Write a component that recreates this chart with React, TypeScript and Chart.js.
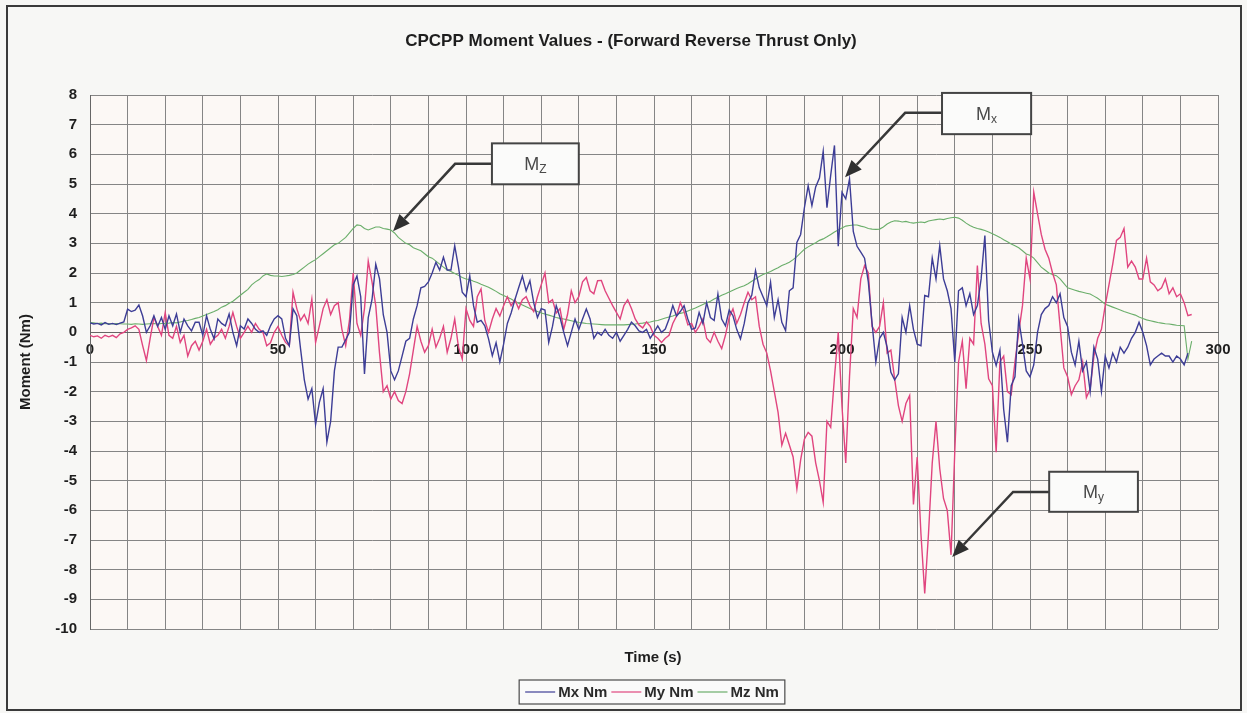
import React, { useEffect, useRef } from "react";
import { Chart, registerables } from "chart.js";

Chart.register(...registerables);

const TITLE = "CPCPP Moment Values - (Forward Reverse Thrust Only)";
const X_TITLE = "Time (s)";
const Y_TITLE = "Moment (Nm)";
const SERIES_NAMES = ["Mx Nm", "My Nm", "Mz Nm"];
const SERIES_COLORS = ["#3d3d96", "#e0457f", "#6aae6a"];
const SERIES_WIDTHS = [1.4, 1.4, 1.1];
const X_TICK_LABELS = [0, 50, 100, 150, 200, 250, 300];

// Mx (N m), one value per second from t = 0 s
const MX = [
  0.32, 0.28, 0.3, 0.25, 0.33, 0.27, 0.3, 0.26, 0.31, 0.35,
  0.78, 0.7, 0.75, 0.92, 0.55, 0.0, 0.22, 0.56, 0.2, 0.5,
  0.1, 0.56, 0.22, 0.62, 0.0, 0.45, 0.22, 0.05, 0.34, 0.34,
  -0.1, 0.56, 0.1, -0.22, 0.45, 0.3, 0.22, 0.62, 0.0, -0.45,
  0.22, 0.11, 0.45, 0.3, 0.1, 0.0, 0.05, -0.1, 0.22, 0.45,
  0.56, 0.45, -0.2, -0.45, 0.79, 0.56, -0.56, -1.6, -2.25, -1.9,
  -3.1, -2.36, -1.9, -3.7, -3.0, -1.3, -0.5, -0.5, -0.25, 0.0,
  1.6, 1.9, 1.2, -1.4, 0.5, 1.1, 2.3, 1.8, 0.6, 0.0,
  -1.3, -1.6, -1.3, -0.8, -0.3, -0.2, 0.45, 0.9, 1.5, 1.55,
  1.7, 2.0, 2.36, 2.1, 2.53, 2.1, 2.1, 2.92, 2.2, 1.35,
  1.2, 1.9, 0.9, 0.34, 0.4, 0.22, -0.22, -0.79, -0.35, -1.0,
  -0.4, 0.3, 0.65, 1.1, 1.5, 1.9, 1.4, 1.74, 1.0, 0.5,
  0.8, 0.75, -0.34, 0.2, 0.9, 0.5, 0.0, -0.45, 0.0, 0.45,
  0.1, 0.45, 0.79, 0.45, -0.2, 0.0, -0.1, 0.1, -0.1, -0.2,
  0.0, -0.3, -0.1, 0.1, 0.34, 0.22, 0.05, 0.0, 0.1, -0.2,
  0.0, 0.22, 0.0, 0.11, 0.45, 0.9, 0.55, 0.7, 0.9, 0.45,
  0.1, 0.15, 0.67, 0.3, 1.0, 0.5, 0.4, 1.29, 0.45, 0.22,
  0.75, 0.56, 0.1, -0.22, 0.3, 1.0, 1.25, 2.08, 1.5, 1.2,
  0.9, 1.69, 0.5, 1.1, 0.34, 0.06, 1.4, 1.5, 3.03, 3.3,
  4.2, 4.94, 4.27, 4.9, 5.2, 6.1, 4.2, 5.3, 6.3, 2.9,
  4.72, 4.5, 5.17, 3.4, 2.9, 2.7, 2.5, 1.7, 0.3, -1.0,
  -0.2, 0.0, -0.5, -1.35, -1.6, -1.4, 0.5, 0.0, 0.9, 0.1,
  -0.4, -0.45, 1.24, 1.2, 2.5, 1.8, 2.92, 1.8, 1.4, 0.8,
  -1.0, 1.4, 1.5, 0.9, 1.3, 0.6, 0.9, 1.8, 3.26, 0.4,
  -0.67, -1.12, -0.6, -2.6, -3.7, -1.8, -1.5, 0.45, -0.4, -1.3,
  -1.5, -1.1, 0.0, 0.6, 0.8, 0.9, 1.2, 1.0, 1.3, 0.5,
  0.2, -0.67, -1.1, -0.3, -1.3, -1.0, -2.0, -0.5, -0.9, -2.0,
  -0.8, -1.2, -0.7, -1.0, -0.5, -0.7, -0.5, -0.2, 0.0, 0.34,
  0.0, -0.45, -1.1, -0.9, -0.8, -0.7, -0.8, -0.8, -1.0, -0.8,
  -0.9, -1.1, -0.7,
];

// My (N m), one value per second from t = 0 s
const MY = [
  -0.1, -0.15, -0.12, -0.2, -0.1, -0.15, -0.1, -0.18, -0.05, 0.0,
  0.1, 0.15, 0.22, 0.1, -0.45, -0.95, -0.2, 0.5, 0.2, -0.1,
  0.67, -0.1, -0.2, 0.2, -0.34, -0.1, -0.8, -0.45, -0.3, -0.6,
  -0.3, 0.1, -0.4, -0.2, -0.1, 0.1, -0.2, 0.2, 0.67, 0.2,
  -0.2, 0.0, 0.2, 0.0, 0.3, 0.1, 0.0, -0.45, -0.35, 0.0,
  0.2, -0.1, -0.34, -0.45, 1.35, 0.8, 0.4, 0.6, 0.3, 1.12,
  -0.34, 0.22, 0.8, 1.1, 0.6, 0.9, 1.0, 0.1, -0.45, 0.4,
  2.0, 0.3, -0.1, 0.8, 2.4, 1.7, 0.9, -0.7, -2.0, -1.8,
  -2.25, -2.0, -2.3, -2.4, -2.0, -1.4, -0.6, 0.2, -0.3, -0.67,
  -0.45, 0.1, -0.5, -0.2, 0.2, -0.67, -0.2, 0.45, -0.5, -0.9,
  0.8, 0.4, 0.2, 1.2, 1.46, 0.4, 0.0, 0.45, 0.8, 0.55,
  0.9, 1.2, 0.9, 1.1, 0.8, 1.1, 1.2, 0.9, 0.7, 1.2,
  1.6, 2.0, 1.0, 1.1, 0.65, 0.8, 0.1, 0.6, 1.4, 1.0,
  1.2, 1.7, 1.85, 1.4, 1.3, 1.74, 1.75, 1.4, 1.15, 0.9,
  0.67, 0.45, 0.9, 1.1, 0.8, 0.45, 0.25, 0.15, 0.35, 0.2,
  -0.1, -0.2, -0.34, -0.2, -0.1, 0.3, 0.55, 1.0, 0.7, 0.25,
  0.3, 0.0, 0.2, 0.45, -0.2, -0.34, 0.0, -0.3, -0.55, -0.1,
  0.5, 0.79, 0.3, 0.6, 1.0, 1.35, 1.1, 1.2, 0.2, -0.4,
  -0.7, -1.3, -2.0, -2.7, -3.8, -3.4, -3.8, -4.2, -5.28, -4.3,
  -3.6, -3.37, -3.5, -4.4, -5.0, -5.73, -3.0, -3.2, -1.5, 0.0,
  -2.5, -4.4, -1.5, 0.8, 0.5, 1.8, 2.25, 2.0, 0.2, 0.0,
  0.2, 1.0, -0.7, -0.6, -1.57, -2.47, -3.0, -2.4, -2.13, -5.8,
  -4.2, -6.8, -8.8, -6.8, -4.4, -3.0, -4.6, -5.6, -6.0, -7.5,
  -4.0, -1.0, -0.3, -1.9, -0.2, -0.4, 2.25, 0.3, -0.4, -1.57,
  -1.8, -4.04, -1.0, -0.8, -2.0, -2.1, -1.0, 0.0, 0.9, 2.5,
  1.8, 4.72, 4.0, 3.3, 2.8, 2.5, 2.0, 1.6, 0.2, -1.2,
  -1.5, -2.1, -1.8, -1.6, -1.0, -2.2, -1.9, -0.8, -0.2, 0.1,
  0.9, 1.6, 2.3, 3.1, 3.2, 3.5, 2.2, 2.4, 2.2, 1.8,
  1.8, 2.5, 1.7, 1.6, 1.4, 1.5, 1.8, 1.3, 1.5, 1.2,
  1.3, 1.0, 0.56, 0.6,
];

// Mz (N m), one value per second from t = 0 s
const MZ = [
  0.33, 0.32, 0.3, 0.31, 0.29, 0.3, 0.28, 0.3, 0.29, 0.28,
  0.28, 0.27, 0.29, 0.28, 0.27, 0.28, 0.29, 0.3, 0.28, 0.3,
  0.3, 0.31, 0.33, 0.32, 0.35, 0.38, 0.4, 0.43, 0.47, 0.5,
  0.55, 0.6, 0.65, 0.7, 0.76, 0.85, 0.9, 0.98, 1.05, 1.15,
  1.25, 1.35, 1.45, 1.6, 1.7, 1.78, 1.9, 1.97, 1.92, 1.9,
  1.9, 1.88, 1.9, 1.92, 1.95, 2.0, 2.1, 2.2, 2.3, 2.38,
  2.45, 2.55, 2.65, 2.75, 2.85, 2.95, 3.0, 3.1, 3.2, 3.35,
  3.5, 3.62, 3.6, 3.5, 3.45, 3.5, 3.55, 3.55, 3.5, 3.48,
  3.45, 3.35, 3.2, 3.1, 3.0, 2.95, 2.85, 2.8, 2.75, 2.65,
  2.55, 2.5, 2.4, 2.3, 2.2, 2.1, 2.05, 1.98, 1.92, 1.85,
  1.8, 1.78, 1.72, 1.68, 1.62, 1.57, 1.52, 1.45, 1.38, 1.3,
  1.24, 1.18, 1.12, 1.05, 0.98, 0.92, 0.86, 0.8, 0.74, 0.7,
  0.65, 0.62, 0.58, 0.54, 0.5, 0.47, 0.45, 0.42, 0.39, 0.36,
  0.33, 0.32, 0.3, 0.29, 0.28, 0.27, 0.26, 0.25, 0.25, 0.25,
  0.25, 0.25, 0.25, 0.26, 0.27, 0.28, 0.3, 0.31, 0.33, 0.35,
  0.38, 0.4, 0.44, 0.48, 0.52, 0.55, 0.6, 0.64, 0.67, 0.72,
  0.77, 0.82, 0.88, 0.94, 1.0, 1.05, 1.12, 1.18, 1.25, 1.3,
  1.36, 1.42, 1.48, 1.53, 1.57, 1.64, 1.72, 1.8, 1.88, 1.95,
  2.0, 2.05, 2.12, 2.18, 2.25, 2.3, 2.36, 2.45, 2.55, 2.68,
  2.8, 2.88, 2.95, 3.02, 3.1, 3.15, 3.22, 3.3, 3.38, 3.45,
  3.52, 3.58, 3.6, 3.62, 3.62, 3.58, 3.55, 3.5, 3.48, 3.47,
  3.48, 3.55, 3.65, 3.72, 3.76, 3.75, 3.72, 3.74, 3.7, 3.68,
  3.7, 3.72, 3.7, 3.75, 3.78, 3.8, 3.82, 3.8, 3.84, 3.86,
  3.88, 3.85, 3.78, 3.68, 3.6, 3.54, 3.5, 3.47, 3.43, 3.38,
  3.32, 3.26, 3.2, 3.12, 3.05, 2.98, 2.92, 2.85, 2.75, 2.64,
  2.6, 2.5, 2.35, 2.2, 2.1, 2.0, 1.95, 1.91, 1.8, 1.65,
  1.5, 1.46, 1.42, 1.38, 1.35, 1.32, 1.29, 1.22, 1.15, 1.05,
  0.95, 0.9, 0.85, 0.8, 0.75, 0.7, 0.66, 0.62, 0.58, 0.52,
  0.47, 0.42, 0.39, 0.36, 0.33, 0.31, 0.29, 0.28, 0.26, 0.24,
  0.23, 0.22, -0.9, -0.3,
];

// Callout boxes: [xMin, xMax, yTop, yBottom], elbow and arrow tip in data units
const CALLOUTS = [
  { main: "M", sub: "Z", box: [106.9, 130.0, 6.37, 4.99], elbow: [97.1, 5.68], tip: [80.6, 3.41] },
  { main: "M", sub: "x", box: [226.6, 250.3, 8.07, 6.68], elbow: [216.8, 7.4], tip: [200.8, 5.23] },
  { main: "M", sub: "y", box: [255.1, 278.7, -4.7, -6.05], elbow: [245.5, -5.38], tip: [229.3, -7.57] },
];

const FONT = "'Liberation Sans', Arial, Helvetica, sans-serif";

const toPoints = (vals: number[]) => vals.map((v, i) => ({ x: i, y: v }));

const extrasPlugin = {
  id: "extras",
  beforeDraw(chart: any) {
    const { ctx, chartArea: a, width, height } = chart;
    ctx.save();
    ctx.fillStyle = "#f7f7f5";
    ctx.fillRect(0, 0, width, height);
    ctx.fillStyle = "#fcf8f5";
    ctx.fillRect(a.left, a.top, a.right - a.left, a.bottom - a.top);
    ctx.restore();
  },
  afterDraw(chart: any) {
    const { ctx, scales } = chart;
    const xs = scales.x;
    const ys = scales.y;
    ctx.save();

    // title
    ctx.fillStyle = "#1e1e1e";
    ctx.textAlign = "center";
    ctx.textBaseline = "middle";
    ctx.font = `bold 17px ${FONT}`;
    ctx.fillText(TITLE, 631, 41);

    // x-axis title
    ctx.font = `bold 15px ${FONT}`;
    ctx.fillText(X_TITLE, 653, 658);

    // legend
    ctx.font = `bold 15px ${FONT}`;
    const widths = SERIES_NAMES.map((n) => ctx.measureText(n).width);
    const lineLen = 30;
    const total = 6 + widths.reduce((s, w) => s + lineLen + 3 + w, 0) + 4 * (SERIES_NAMES.length - 1) + 6;
    const lx = 652 - total / 2;
    const ly = 680;
    const lh = 24;
    ctx.fillStyle = "#fafafa";
    ctx.fillRect(lx, ly, total, lh);
    ctx.strokeStyle = "#4a4a4a";
    ctx.lineWidth = 1.2;
    ctx.strokeRect(lx, ly, total, lh);
    let cx = lx + 6;
    ctx.textAlign = "left";
    SERIES_NAMES.forEach((n, i) => {
      ctx.strokeStyle = SERIES_COLORS[i];
      ctx.lineWidth = 1.2;
      ctx.beginPath();
      ctx.moveTo(cx, ly + lh / 2);
      ctx.lineTo(cx + lineLen, ly + lh / 2);
      ctx.stroke();
      cx += lineLen + 3;
      ctx.fillStyle = "#2a2a2a";
      ctx.fillText(n, cx, ly + lh / 2 + 1);
      cx += widths[i] + 4;
    });

    // callouts
    CALLOUTS.forEach((c) => {
      const bx0 = xs.getPixelForValue(c.box[0]);
      const bx1 = xs.getPixelForValue(c.box[1]);
      const by0 = ys.getPixelForValue(c.box[2]);
      const by1 = ys.getPixelForValue(c.box[3]);
      const ex = xs.getPixelForValue(c.elbow[0]);
      const ey = ys.getPixelForValue(c.elbow[1]);
      const tx = xs.getPixelForValue(c.tip[0]);
      const ty = ys.getPixelForValue(c.tip[1]);
      const ang = Math.atan2(ty - ey, tx - ex);
      const headLen = 17;
      const headW = 7;
      const baseX = tx - headLen * Math.cos(ang);
      const baseY = ty - headLen * Math.sin(ang);

      ctx.strokeStyle = "#383838";
      ctx.lineWidth = 2.5;
      ctx.lineJoin = "miter";
      ctx.beginPath();
      ctx.moveTo(bx0, ey);
      ctx.lineTo(ex, ey);
      ctx.lineTo(baseX, baseY);
      ctx.stroke();

      ctx.fillStyle = "#303030";
      ctx.beginPath();
      ctx.moveTo(tx, ty);
      ctx.lineTo(baseX + headW * Math.sin(ang), baseY - headW * Math.cos(ang));
      ctx.lineTo(baseX - headW * Math.sin(ang), baseY + headW * Math.cos(ang));
      ctx.closePath();
      ctx.fill();

      ctx.fillStyle = "#fbfbfa";
      ctx.fillRect(bx0, by0, bx1 - bx0, by1 - by0);
      ctx.strokeStyle = "#444";
      ctx.lineWidth = 2;
      ctx.strokeRect(bx0, by0, bx1 - bx0, by1 - by0);

      ctx.fillStyle = "#4a4a4a";
      ctx.textBaseline = "alphabetic";
      ctx.textAlign = "left";
      ctx.font = `18px ${FONT}`;
      const mw = ctx.measureText(c.main).width;
      ctx.font = `12px ${FONT}`;
      const sw = ctx.measureText(c.sub).width;
      const startX = (bx0 + bx1) / 2 - (mw + sw) / 2;
      const baseLine = (by0 + by1) / 2 + 6;
      ctx.font = `18px ${FONT}`;
      ctx.fillText(c.main, startX, baseLine);
      ctx.font = `12px ${FONT}`;
      ctx.fillText(c.sub, startX + mw, baseLine + 3);
    });

    // outer frame
    ctx.strokeStyle = "#3a3a3a";
    ctx.lineWidth = 2;
    ctx.strokeRect(7, 6, 1234, 704);
    ctx.restore();
  },
};

export default function App() {
  const canvasRef = useRef<HTMLCanvasElement | null>(null);

  useEffect(() => {
    if (!canvasRef.current) return;
    const gridColor = "#858585";
    const chart = new Chart(canvasRef.current, {
      type: "line",
      data: {
        datasets: [MX, MY, MZ].map((vals, i) => ({
          label: SERIES_NAMES[i],
          data: toPoints(vals),
          borderColor: SERIES_COLORS[i],
          backgroundColor: SERIES_COLORS[i],
          borderWidth: SERIES_WIDTHS[i],
          pointRadius: 0,
          tension: 0,
          fill: false,
        })),
      },
      options: {
        responsive: false,
        animation: false,
        events: [],
        layout: { padding: { left: 0, right: 29, top: 95, bottom: 84 } },
        plugins: {
          legend: { display: false },
          title: { display: false },
          tooltip: { enabled: false },
        },
        scales: {
          x: {
            type: "linear",
            position: { y: 0 },
            min: 0,
            max: 300,
            grid: { color: gridColor, lineWidth: 1, drawTicks: false },
            border: { display: true, color: "#666", width: 1 },
            ticks: {
              stepSize: 10,
              autoSkip: false,
              maxRotation: 0,
              padding: 9,
              color: "#1e1e1e",
              font: { family: FONT, size: 15, weight: "bold" },
              callback: (v: any) => (X_TICK_LABELS.includes(Number(v)) ? String(v) : ""),
            },
            title: { display: false },
          },
          y: {
            type: "linear",
            position: "left",
            min: -10,
            max: 8,
            afterFit: (scale: any) => {
              scale.width = 90;
            },
            grid: { color: gridColor, lineWidth: 1, drawTicks: false },
            border: { display: true, color: "#666", width: 1 },
            ticks: {
              stepSize: 1,
              padding: 13,
              color: "#1e1e1e",
              font: { family: FONT, size: 15, weight: "bold" },
            },
            title: {
              display: true,
              text: Y_TITLE,
              color: "#1e1e1e",
              font: { family: FONT, size: 15, weight: "bold" },
              padding: { top: 17, bottom: 0 },
            },
          },
        },
      },
      plugins: [extrasPlugin],
    } as any);
    return () => chart.destroy();
  }, []);

  return (
    <div style={{ position: "fixed", left: 0, top: 0, width: 1247, height: 713 }}>
      <canvas ref={canvasRef} width={1247} height={713} style={{ display: "block" }} />
    </div>
  );
}
